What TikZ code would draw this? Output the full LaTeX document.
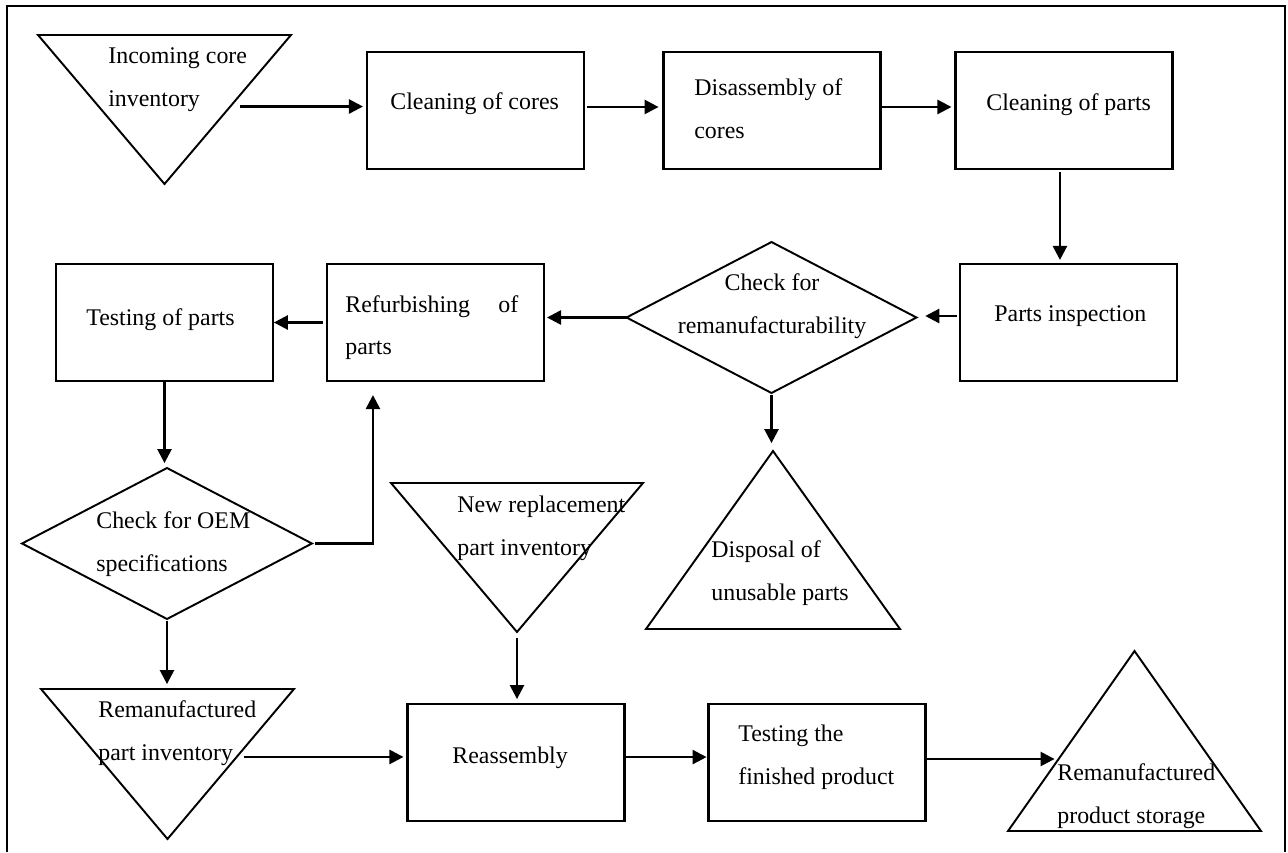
\documentclass[tikz,border=0pt]{standalone}
\usepackage{fontspec}
\setmainfont{Liberation Serif}
\usetikzlibrary{arrows.meta, shapes.geometric, calc}

\begin{document}
\begin{tikzpicture}[
    x=0.02cm, y=-0.02cm,
    font=\fontsize{13.6}{24}\selectfont,
    box/.style={draw, line width=1.4pt, minimum width=4.34cm, minimum height=2.34cm, inner sep=0pt, outer sep=0pt},
    chk/.style={diamond, draw, line width=1.1pt, minimum width=5.8cm, minimum height=3.02cm, inner sep=0pt, outer sep=0pt},
    tri/.style={inner sep=0pt, outer sep=0pt, minimum width=5.06cm},
    triline/.style={line width=1.1pt},
    lbl/.style={anchor=base west, align=left, inner sep=0pt},
    arr/.style={->, line width=1.4pt},
    >={Triangle[length=8pt, width=8pt]}
]
    \useasboundingbox (0,0) rectangle (1288,852);
    \draw[line width=1.4pt] (7,852) -- (7,6) -- (1285,6) -- (1285,852);

    % process boxes
    \node[box] (cleancores) at (475.5,110.5) {};
    \node[box] (disasm)     at (772,110.5)   {};
    \node[box] (cleanparts) at (1064,110.5)  {};
    \node[box] (inspect)    at (1068.5,322.5) {};
    \node[box] (refurb)     at (435.5,322.5) {};
    \node[box] (testparts)  at (164.5,322.5) {};
    \node[box] (reasm)      at (516,762.5)   {};
    \node[box] (testfin)    at (817,762.5)   {};

    % decisions
    \node[chk] (remanck) at (771.5,317.5) {};
    \node[chk] (oemck)   at (167,543.5)   {};

    % inventories and storage
    \node[tri, minimum height=2.98cm] (incore) at (164.5,109.5) {};
    \node[tri, minimum height=3.0cm] (remanpart) at (167.5,764) {};
    \node[tri, minimum width=5.04cm, minimum height=2.98cm] (newpart) at (517,557.5) {};
    \node[tri, minimum width=5.08cm, minimum height=3.56cm] (disposal) at (773,540) {};
    \node[tri, minimum height=3.6cm] (storage) at (1134.5,741) {};
    \draw[triline] (incore.north west) -- (incore.north east) -- (incore.south) -- cycle;
    \draw[triline] (remanpart.north west) -- (remanpart.north east) -- (remanpart.south) -- cycle;
    \draw[triline] (newpart.north west) -- (newpart.north east) -- (newpart.south) -- cycle;
    \draw[triline] (disposal.south west) -- (disposal.south east) -- (disposal.north) -- cycle;
    \draw[triline] (storage.south west) -- (storage.south east) -- (storage.north) -- cycle;

    % texts (base = last line)
    \node[lbl] (incore-t)     at (108,106)  {Incoming core\\inventory};
    \node[lbl] (cleancores-t) at (390,109)  {Cleaning of cores};
    \node[lbl] (disasm-t)     at (694,138)  {Disassembly of\\cores};
    \node[lbl] (cleanparts-t) at (986,110)  {Cleaning of parts};
    \node[lbl] (inspect-t)    at (994,321)  {Parts inspection};
    \node[lbl, text width=3.46cm] (refurb-t) at (345,312) {Refurbishing\hfill of\\parts};
    \node[lbl] (testparts-t)  at (86,325)   {Testing of parts};
    \node[lbl, anchor=base, align=center] (remanck-t) at (772,333) {Check for\\remanufacturability};
    \node[lbl] (oemck-t)      at (96,571)   {Check for OEM\\specifications};
    \node[lbl] (newpart-t)    at (457,555)  {New replacement\\part inventory};
    \node[lbl] (disposal-t)   at (711,600)  {Disposal of\\unusable parts};
    \node[lbl] (remanpart-t)  at (98,760)   {Remanufactured\\part inventory};
    \node[lbl] (reasm-t)      at (452,763)  {Reassembly};
    \node[lbl] (testfin-t)    at (738,784)  {Testing the\\finished product};
    \node[lbl] (storage-t)    at (1057,823) {Remanufactured\\product storage};

    % connectors
    \coordinate (incore-out)    at ($(incore.north east)!0.48!(incore.south)$);
    \coordinate (remanpart-out) at ($(remanpart.north east)!0.453!(remanpart.south)$);
    \coordinate (storage-in)    at ($(storage.south west)!0.4!(storage.north)$);
    \draw[arr, shorten <=5.7pt, shorten >=2.3pt] (incore-out) -- (incore-out -| cleancores.west);
    \draw[arr, shorten <=1.7pt, shorten >=2.8pt] ([yshift=2pt]cleancores.east) -- ([yshift=2pt]disasm.west);
    \draw[arr, shorten <=1.1pt, shorten >=2.3pt] ([yshift=2pt]disasm.east) -- ([yshift=2pt]cleanparts.west);
    \draw[arr, shorten <=1.7pt, shorten >=2.3pt] ([xshift=-2.3pt]cleanparts.south) -- ([xshift=-2.3pt]cleanparts.south |- inspect.north);
    \draw[arr, shorten <=1.7pt, shorten >=5pt] ([yshift=3.7pt]inspect.west) -- ([yshift=3.7pt]inspect.west -| remanck.east);
    \draw[arr, shorten >=1.7pt] (remanck.west) -- (remanck.west -| refurb.east);
    \draw[arr, shorten <=2.3pt, shorten >=0.5pt] (refurb.west) -- (testparts.east);
    \draw[arr, shorten >=2.8pt] (testparts.south) -- (testparts.south |- oemck.north);
    \draw[arr, shorten <=1.7pt, shorten >=8pt] (oemck.east) -| ([xshift=-35.6pt]refurb.south);
    \draw[arr, shorten <=1.1pt, shorten >=2.8pt] (oemck.south) -- (oemck.south |- remanpart.north);
    \draw[arr, shorten <=1.1pt, shorten >=4.5pt] (remanck.south) -- (remanck.south |- disposal.north);
    \draw[arr, shorten <=4.3pt, shorten >=2.3pt] (remanpart-out) -- (remanpart-out -| reasm.west);
    \draw[arr, shorten <=3.4pt, shorten >=2.8pt] (newpart.south) -- (newpart.south |- reasm.north);
    \draw[arr, shorten <=1.1pt, shorten >=1.1pt] ([yshift=3.1pt]reasm.east) -- ([yshift=3.1pt]testfin.west);
    \draw[arr, shorten <=1.1pt, shorten >=2.3pt] (testfin.east |- storage-in) -- (storage-in);
\end{tikzpicture}
\end{document}
